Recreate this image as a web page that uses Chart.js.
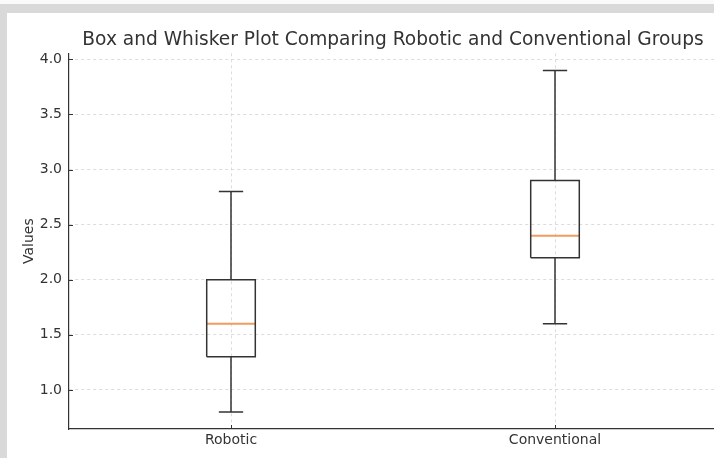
<!DOCTYPE html>
<html>
<head>
<meta charset="utf-8">
<script src="https://cdn.jsdelivr.net/npm/chart.js@4.4.0/dist/chart.umd.min.js"></script>
<style>
  html, body { margin: 0; padding: 0; overflow: hidden; width: 714px; height: 458px; background: #d9d9d9; }
  #topstrip { position: absolute; left: 0; top: 0; width: 714px; height: 4px; background: #fafafa; }
  #sheet { position: absolute; left: 7px; top: 13px; width: 707px; height: 445px; background: #ffffff; }
  #wrap { position: absolute; left: 0; top: 0; width: 786px; height: 458px; }
</style>
</head>
<body>
<div id="topstrip"></div>
<div id="sheet"></div>
<div id="wrap"><canvas id="boxChart"></canvas></div>
<script>
// data
var categories = ['Robotic', 'Conventional'];
var whiskerLow = [0.8, 1.6];
var q1 = [1.3, 2.2];
var medians = [1.6, 2.4];
var q3 = [2.0, 2.9];
var whiskerHigh = [2.8, 3.9];
var yTicks = [1.0, 1.5, 2.0, 2.5, 3.0, 3.5, 4.0];

var boxHalf = 0.075;
var capHalf = 0.0375;
var lineColor = '#333333';
var medianColor = '#f39a5e';

var datasets = [];
categories.forEach(function(name, i){
    var x = i + 1;
    // box outline
    datasets.push({
        label: name + ' box',
        data: [
            {x: x - boxHalf, y: q1[i]}, {x: x + boxHalf, y: q1[i]},
            {x: x + boxHalf, y: q3[i]}, {x: x - boxHalf, y: q3[i]},
            {x: x - boxHalf, y: q1[i]}
        ],
        borderColor: lineColor, borderWidth: 1.5
    });
    // whiskers + caps
    datasets.push({
        label: name + ' whiskers',
        data: [
            {x: x, y: q3[i]}, {x: x, y: whiskerHigh[i]}, {x: x, y: null},
            {x: x - capHalf, y: whiskerHigh[i]}, {x: x + capHalf, y: whiskerHigh[i]}, {x: x, y: null},
            {x: x, y: q1[i]}, {x: x, y: whiskerLow[i]}, {x: x, y: null},
            {x: x - capHalf, y: whiskerLow[i]}, {x: x + capHalf, y: whiskerLow[i]}
        ],
        borderColor: lineColor, borderWidth: 1.5
    });
    // median
    datasets.push({
        label: name + ' median',
        data: [{x: x - boxHalf, y: medians[i]}, {x: x + boxHalf, y: medians[i]}],
        borderColor: medianColor, borderWidth: 2
    });
});

// matplotlib style inward tick marks
var inwardTicks = {
    id: 'inwardTicks',
    afterDatasetsDraw: function(chart){
        var ctx = chart.ctx, xs = chart.scales.x, ys = chart.scales.y;
        ctx.save();
        ctx.strokeStyle = lineColor;
        ctx.lineWidth = 1;
        ctx.beginPath();
        yTicks.forEach(function(v){
            var py = Math.round(ys.getPixelForValue(v)) + 0.5;
            ctx.moveTo(xs.left, py); ctx.lineTo(xs.left + 4, py);
        });
        categories.forEach(function(c, i){
            var px = Math.round(xs.getPixelForValue(i + 1)) + 0.5;
            ctx.moveTo(px, ys.bottom); ctx.lineTo(px, ys.bottom - 4);
        });
        ctx.stroke();
        ctx.restore();
    }
};

var ctx = document.getElementById('boxChart');
var boxChart = new Chart(ctx, {
    type: 'scatter',
    data: { datasets: datasets },
    plugins: [inwardTicks],
    options: {
        responsive: true,
        maintainAspectRatio: false,
        animation: false,
        showLine: true,
        spanGaps: false,
        elements: { point: { radius: 0, hoverRadius: 0 }, line: { tension: 0 } },
        layout: { padding: 0 },
        plugins: {
            legend: { display: false },
            tooltip: { enabled: false },
            title: {
                display: true,
                text: 'Box and Whisker Plot Comparing Robotic and Conventional Groups',
                color: '#333333',
                font: { family: 'DejaVu Sans', size: 18.6, weight: 'normal' },
                padding: { top: 29, bottom: 2 }
            }
        },
        scales: {
            x: {
                type: 'linear',
                min: 0.5,
                max: 2.5,
                afterBuildTicks: function(scale){
                    scale.ticks = categories.map(function(c, i){ return {value: i + 1}; });
                },
                afterFit: function(scale){ scale.height = 29; },
                ticks: {
                    color: '#333333',
                    padding: 3,
                    font: { family: 'DejaVu Sans', size: 14 },
                    callback: function(v){ return categories[v - 1]; }
                },
                grid: { color: '#d4d4d4', lineWidth: 0.8, drawTicks: false },
                border: { color: lineColor, width: 1.2, dash: [3, 3] }
            },
            y: {
                type: 'linear',
                min: 0.645,
                max: 4.055,
                afterBuildTicks: function(scale){
                    scale.ticks = yTicks.map(function(v){ return {value: v}; });
                },
                afterFit: function(scale){ scale.width = 69; },
                ticks: {
                    color: '#333333',
                    padding: 7,
                    font: { family: 'DejaVu Sans', size: 14 },
                    callback: function(v){ return v.toFixed(1); }
                },
                title: {
                    display: true,
                    text: 'Values',
                    color: '#333333',
                    font: { family: 'DejaVu Sans', size: 14 },
                    padding: { top: 21, bottom: 0 }
                },
                grid: { color: '#d4d4d4', lineWidth: 0.8, drawTicks: false },
                border: { color: lineColor, width: 1.2, dash: [3, 3] }
            },
            // empty right axis that only keeps room so the title centres over the plot
            yRight: {
                type: 'linear',
                position: 'right',
                display: true,
                afterFit: function(scale){ scale.width = 69; },
                ticks: { display: false },
                grid: { display: false },
                border: { display: false }
            }
        }
    }
});
</script>
</body>
</html>
